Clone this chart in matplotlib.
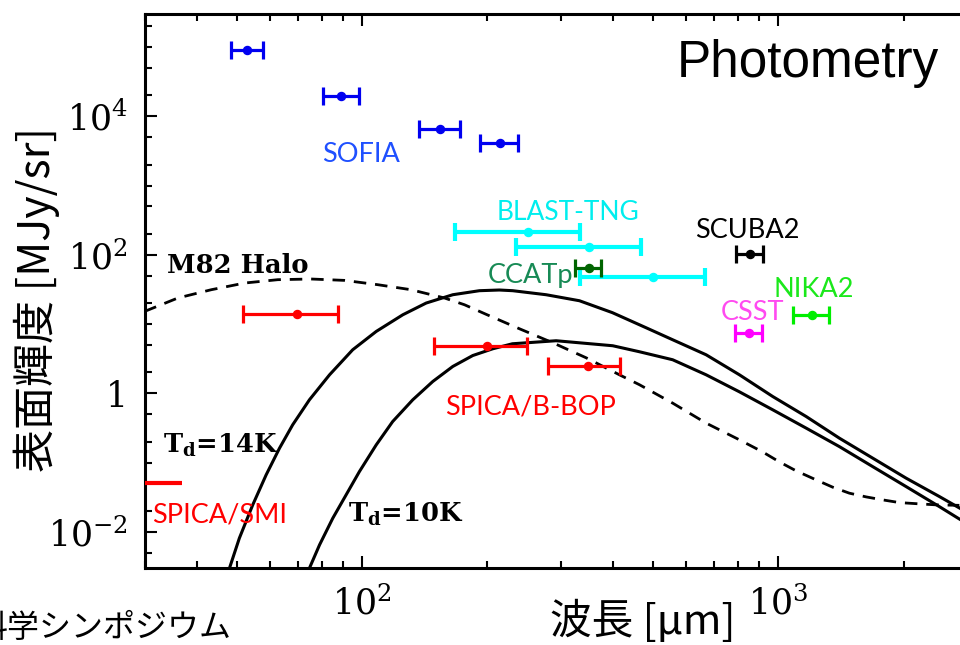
import matplotlib
matplotlib.use('Agg')
import matplotlib.pyplot as plt
import matplotlib.ticker as mticker
import numpy as np

plt.rcParams['mathtext.fontset'] = 'dejavuserif'

# ---------------- data (wavelength in micron, brightness in MJy/sr) ----------------
sofia_wl = [53, 89, 154, 214]
sofia_lo = [48.3, 80.4, 136.7, 192.4]
sofia_hi = [57.8, 98.1, 172.2, 236.5]
sofia_I = [9.0e4, 1.95e4, 6.6e3, 4.1e3]

blast_wl = [250, 350, 499]
blast_lo = [167.5, 234.4, 334]
blast_hi = [334.5, 468, 668]
blast_I = [213, 129, 47.1]

ccat_wl = [351]
ccat_lo = [325]
ccat_hi = [374]
ccat_I = [63.5]

scuba_wl = [856]
scuba_lo = [791]
scuba_hi = [920]
scuba_I = [104]

nika_wl = [1202]
nika_lo = [1082]
nika_hi = [1326]
nika_I = [13.6]

csst_wl = [848]
csst_lo = [788]
csst_hi = [914]
csst_I = [7.4]

bbop_wl = [69.6, 199.7, 348.3]
bbop_lo = [51.7, 149.1, 279.1]
bbop_hi = [87.4, 248.5, 417.4]
bbop_I = [13.9, 4.86, 2.50]

smi_range = [25, 36.9]
smi_I = 0.0514

t14_wl = [48.0, 50.7, 54.6, 58.8, 63.3, 68.1, 74.7, 83.5, 94.9, 108.1, 125.2, 142.5,
          165.1, 191.3, 213.6, 230.0, 276.7, 332.7, 399.2, 481.0, 557.2, 670.4, 806.0,
          969.0, 1166, 1401, 1684, 2026, 2436, 2721]
t14_I = [0.00298, 0.00809, 0.0245, 0.0664, 0.161, 0.351, 0.805, 1.85, 4.25, 7.82, 13.6, 20.1,
         26.5, 30.3, 31.0, 30.3, 26.5, 21.7, 14.6, 8.84, 5.93, 3.60, 1.85,
         0.899, 0.462, 0.225, 0.116, 0.0596, 0.0323, 0.0221]

t10_wl = [74.7, 79.0, 85.0, 91.5, 98.5, 108.1, 118.4, 132.3, 147.8, 165.1, 184.4, 205.9,
          229.6, 292.4, 399.9, 463.6, 557.2, 670.4, 806, 969, 1166, 1401, 1684, 2026,
          2436, 2721]
t10_I = [0.00298, 0.00647, 0.0157, 0.0341, 0.0741, 0.180, 0.391, 0.805, 1.48, 2.44, 3.51, 4.39,
         5.19, 5.74, 4.86, 3.98, 3.05, 1.85, 1.05, 0.578, 0.314, 0.170, 0.0875, 0.0450,
         0.0231, 0.0153]

m82_wl = [30.0, 36.1, 43.4, 52.2, 62.7, 75.4, 90.7, 109.0, 131.1, 157.6, 176.1, 198.6,
          238.7, 287.0, 345.1, 415.0, 463.6, 557.2, 670.4, 806, 915.3, 1006, 1103, 1232,
          1350, 1481, 1625, 1780, 1953, 2182, 2392, 2721]
m82_I = [15.2, 23.8, 31.3, 39.1, 43.7, 44.7, 42.7, 37.0, 31.3, 23.8, 19.0, 13.8,
         8.55, 5.37, 3.26, 1.85, 1.33, 0.721, 0.371, 0.213, 0.143, 0.102, 0.0759, 0.0562,
         0.0441, 0.0361, 0.0319, 0.0289, 0.0264, 0.0253, 0.0245, 0.0241]

# ---------------- figure ----------------
W, H = 960, 645
fig = plt.figure(figsize=(W / 100, H / 100), dpi=100)
ax_l, ax_r, ax_t, ax_b = 144.5, 977, 14, 568
ax = fig.add_axes([ax_l / W, 1 - ax_b / H, (ax_r - ax_l) / W, (ax_b - ax_t) / H])
ax.set_xscale('log')
ax.set_yscale('log')
ax.set_xlim(30, 3000)
ax.set_ylim(3e-3, 3e5)


def ebar(wl, lo, hi, I, color, lw=2.3, cap=6.2):
    wl = np.asarray(wl, float)
    xerr = [wl - np.asarray(lo), np.asarray(hi) - wl]
    ax.errorbar(wl, I, xerr=xerr, fmt='o', color=color, ms=5.8, elinewidth=lw,
                capsize=cap, capthick=lw, zorder=4)


ebar(sofia_wl, sofia_lo, sofia_hi, sofia_I, '#0000f0')
ebar(blast_wl, blast_lo, blast_hi, blast_I, '#00ffff', lw=3.0, cap=6.5)
ebar(ccat_wl, ccat_lo, ccat_hi, ccat_I, '#006400')
ebar(scuba_wl, scuba_lo, scuba_hi, scuba_I, '#000000')
ebar(nika_wl, nika_lo, nika_hi, nika_I, '#00ee00')
ebar(csst_wl, csst_lo, csst_hi, csst_I, '#ff00ff')
ebar(bbop_wl, bbop_lo, bbop_hi, bbop_I, '#ff0000', cap=6.8)
ax.plot(smi_range, [smi_I, smi_I], color='#ff0000', lw=3.0, solid_capstyle='butt', zorder=4)

ax.plot(t14_wl, t14_I, color='black', lw=2.2, zorder=3, solid_joinstyle='round')
ax.plot(t10_wl, t10_I, color='black', lw=2.2, zorder=3, solid_joinstyle='round')
ax.plot(m82_wl, m82_I, color='black', lw=2.0, ls=(0, (4.5, 3.2)), zorder=3)

# ticks
ax.xaxis.set_major_locator(mticker.LogLocator(base=10))
ax.xaxis.set_minor_locator(mticker.LogLocator(base=10, subs=np.arange(2, 10)))
ax.yaxis.set_major_locator(mticker.LogLocator(base=100))
ax.yaxis.set_minor_locator(mticker.FixedLocator(
    [m * 10.0 ** k for k in range(-4, 7) for m in (1, 2, 5)]))


def fmt(v, pos):
    e = int(round(np.log10(v)))
    if e == 0:
        return '1'
    return r'$10^{%d}$' % e


ax.xaxis.set_major_formatter(mticker.FuncFormatter(fmt))
ax.yaxis.set_major_formatter(mticker.FuncFormatter(fmt))
ax.xaxis.set_minor_formatter(mticker.NullFormatter())
ax.yaxis.set_minor_formatter(mticker.NullFormatter())
ax.tick_params(which='both', direction='in', top=True, right=True, width=1.5)
ax.tick_params(which='major', length=8.5, labelsize=25)
ax.tick_params(which='minor', length=5)
ax.tick_params(axis='y', which='major', pad=12)
ax.tick_params(axis='x', which='major', pad=13)
for lab in ax.get_xticklabels() + ax.get_yticklabels():
    lab.set_fontfamily('DejaVu Serif')
for s in ax.spines.values():
    s.set_linewidth(2.2)


def ptext(px, py, s, **kw):
    fig.text(px / W, 1 - py / H, s, **kw)


lab_font = ['Lato', 'DejaVu Sans']
ptext(322, 162, 'SOFIA', color='#1f50ff', fontsize=19.5, family=lab_font)
ptext(497, 220, 'BLAST-TNG', color='#00eeee', fontsize=19, family=lab_font)
ptext(695, 238, 'SCUBA2', color='black', fontsize=19.5, family=lab_font)
ptext(488, 283, 'CCATp', color='#178a55', fontsize=19.5, family=lab_font)
ptext(773, 297, 'NIKA2', color='#1be81b', fontsize=19.5, family=lab_font)
ptext(721, 320, 'CSST', color='#ff4af0', fontsize=19.5, family=lab_font)
ptext(445, 415, 'SPICA/B-BOP', color='#ff0000', fontsize=19.5, family=lab_font)
ptext(152, 522, 'SPICA/SMI', color='#ff0000', fontsize=19.5, family=lab_font)

ptext(167, 273, 'M82 Halo', fontsize=18.5, family='DejaVu Serif', fontweight='bold')
ptext(163, 453, r'T$_\mathbf{d}$=14K', fontsize=18.5, family='DejaVu Serif', fontweight='bold')
ptext(348, 522, r'T$_\mathbf{d}$=10K', fontsize=18.5, family='DejaVu Serif', fontweight='bold')

ptext(677, 77, 'Photometry', fontsize=37, family=['Liberation Sans', 'DejaVu Sans'])

cjk = ['Noto Sans CJK JP', 'DejaVu Sans']
ptext(37, 300, '表面輝度 [MJy/sr]', rotation=90, ha='center', va='center',
      fontsize=31, family=cjk)
ptext(643, 621, '波長 [μm]', ha='center', va='center', fontsize=30, family=cjk)
ptext(-25, 628, '科学シンポジウム', ha='left', va='center', fontsize=23, family=cjk)

fig.savefig('out.png', dpi=100)
